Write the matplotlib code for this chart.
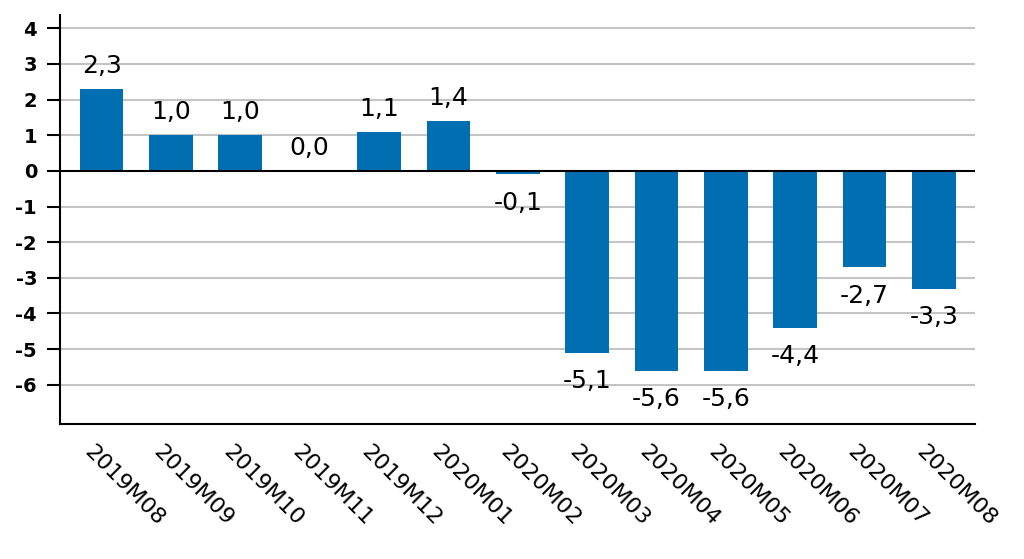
import matplotlib.pyplot as plt
from matplotlib.transforms import ScaledTranslation

months = ["2019M08", "2019M09", "2019M10", "2019M11", "2019M12", "2020M01",
          "2020M02", "2020M03", "2020M04", "2020M05", "2020M06", "2020M07", "2020M08"]
values = [2.3, 1.0, 1.0, 0.0, 1.1, 1.4, -0.1, -5.1, -5.6, -5.6, -4.4, -2.7, -3.3]
yticks = [4, 3, 2, 1, 0, -1, -2, -3, -4, -5, -6]

fig = plt.figure(figsize=(10.24, 5.59), dpi=100)
ax = fig.add_axes([0.0586, 0.2415, 0.894, 0.7315])

x = list(range(len(months)))
ax.bar(x, values, width=0.63, color="#006EB0", zorder=3)

for xi, v in zip(x, values):
    lbl = ("%.1f" % v).replace(".", ",")
    if v >= 0:
        ax.annotate(lbl, (xi, v), xytext=(0, 8), textcoords="offset points",
                    ha="center", va="bottom", fontsize=18)
    else:
        ax.annotate(lbl, (xi, v), xytext=(0, -12), textcoords="offset points",
                    ha="center", va="top", fontsize=18)

ax.set_xlim(-0.6, len(months) - 0.4)
ax.set_ylim(-7.1, 4.37)
ax.tick_params(axis="x", length=0, pad=13)
ax.tick_params(axis="y", length=9.5, width=1.5, direction="out", pad=7)
ax.set_yticks(yticks)
ax.set_yticklabels([str(t) for t in yticks], fontsize=14, fontweight="bold")
ax.set_xticks(x)
ax.set_xticklabels(months, rotation=-45, ha="left", va="top", fontsize=16,
                   rotation_mode="anchor")
shift = ScaledTranslation(-7 / 100, 0, fig.dpi_scale_trans)
for lab in ax.get_xticklabels():
    lab.set_transform(lab.get_transform() + shift)

for t in yticks:
    if t != 0:
        ax.axhline(t, color="#c4c4c4", lw=1.5, zorder=1)
ax.axhline(0, color="black", lw=1.5, zorder=4)

ax.spines["top"].set_visible(False)
ax.spines["right"].set_visible(False)
ax.spines["left"].set_linewidth(1.5)
ax.spines["bottom"].set_linewidth(1.5)

fig.savefig("out.png", dpi=100)
